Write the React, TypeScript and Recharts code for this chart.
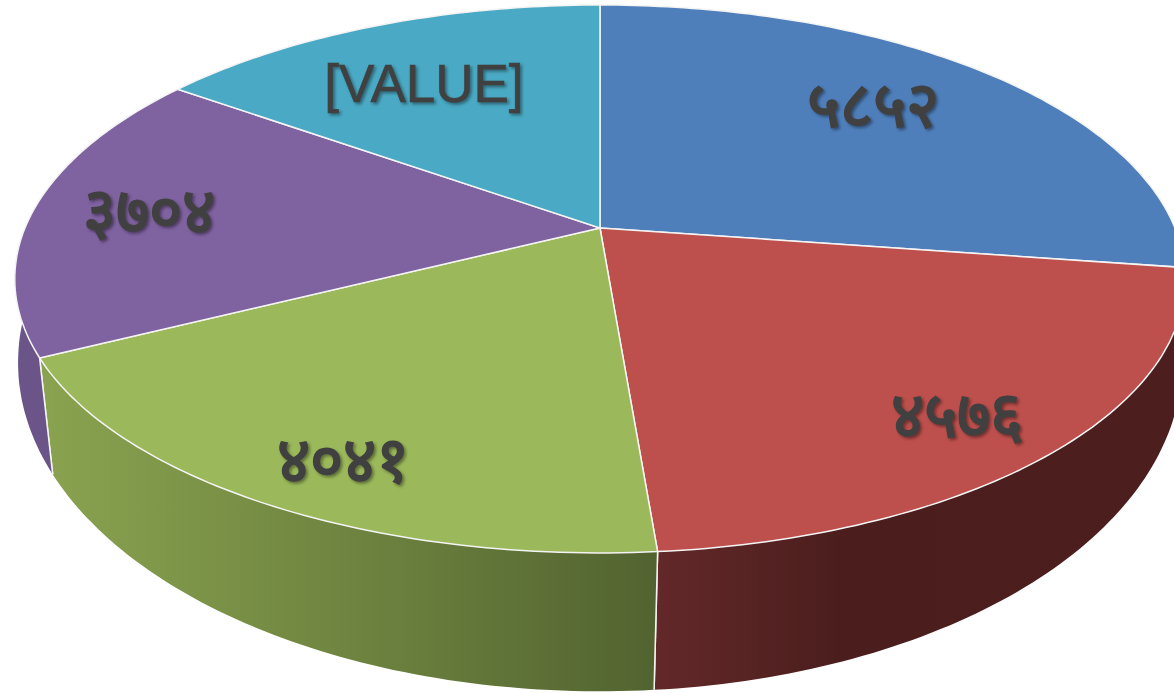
import { Cell, Pie, PieChart } from "recharts";

const sliceNames = ["क", "ख", "ग", "घ", "ङ"];
const sliceValues = [5852, 4576, 4041, 3704, 3240];
const sliceLabels = ["५८५२", "४५७६", "४०४१", "३७०४", "[VALUE]"];
const topColors = ["#4f7fbb", "#bd504d", "#9bb95a", "#7f62a0", "#4aa9c4"];
const wallFills = ["#3a5f8c", "url(#wallRed)", "url(#wallGreen)", "#6a5488", "#38809a"];

const data = sliceNames.map((name, i) => ({ name, value: sliceValues[i] }));

// recharts gives a flat circle, so project each angle onto the tilted disc
const RADIUS = 300;
const CX = 600;
const CY = 228;

const project = (theta: number, r = 1) => {
  const u = r * Math.sin((theta * Math.PI) / 180);
  const v = -r * Math.cos((theta * Math.PI) / 180);
  const d = 1 - 0.186 * v;
  return { x: CX + (575 * u) / d, y: CY + (264.5 * v) / d };
};

const projectBottom = (theta: number) => {
  const u = Math.sin((theta * Math.PI) / 180);
  const v = -Math.cos((theta * Math.PI) / 180);
  const d = 1 - 0.13 * v;
  return { x: CX + (577 * u) / d, y: 320 + (323 * v) / d };
};

const rim = (from: number, to: number, fn: (t: number) => { x: number; y: number }) => {
  const pts = [];
  const steps = Math.max(4, Math.ceil(Math.abs(to - from)));
  for (let i = 0; i <= steps; i++) {
    const p = fn(from + ((to - from) * i) / steps);
    pts.push(`${p.x.toFixed(1)} ${p.y.toFixed(1)}`);
  }
  return pts;
};

function WallShape(props: any) {
  const from = 90 - props.startAngle;
  const to = 90 - props.endAngle;
  const d = `M${rim(from, to, project).join("L")}L${rim(to, from, projectBottom).join("L")}Z`;
  const a = project(from);
  const b = projectBottom(from);
  const c = project(to);
  const e = projectBottom(to);
  return (
    <g>
      <path d={d} fill={props.fill} stroke="none" />
      <line x1={a.x} y1={a.y} x2={b.x} y2={b.y} stroke="#f4f4f4" strokeWidth={1.5} />
      <line x1={c.x} y1={c.y} x2={e.x} y2={e.y} stroke="#f4f4f4" strokeWidth={1.5} />
    </g>
  );
}

function TopShape(props: any) {
  const from = 90 - props.startAngle;
  const to = 90 - props.endAngle;
  const d = `M${CX} ${CY}L${rim(from, to, project).join("L")}Z`;
  return <path d={d} fill={props.fill} stroke="#f4f4f4" strokeWidth={1.5} strokeLinejoin="round" />;
}

const labelRadius = [0.7, 0.82, 0.84, 0.8, 0.7];
const labelNudgeX = [-8, -6, 17, 2, -11];
const labelNudgeY = [-11, 9, 8, -1, 3];

function SliceLabel(props: any) {
  const i = props.index;
  const p = project(90 - props.midAngle, labelRadius[i]);
  const isDigits = i < 4;
  return (
    <text
      x={p.x + labelNudgeX[i]}
      y={p.y + labelNudgeY[i]}
      textAnchor="middle"
      dominantBaseline="central"
      fill="#404040"
      stroke={isDigits ? "none" : "#404040"}
      strokeWidth={0.6}
      fontSize={isDigits ? 64 : 53}
      fontWeight={isDigits ? 700 : 400}
      fontFamily='"Liberation Sans", Arial, sans-serif'
      style={{ filter: "drop-shadow(2px 2px 1.5px rgba(0,0,0,0.4))" }}
    >
      {sliceLabels[i]}
    </text>
  );
}

export default function App() {
  return (
    <div style={{ position: "absolute", left: 0, top: 0, width: 1174, height: 693, overflow: "hidden", background: "#fff" }}>
      <PieChart width={1174} height={693} margin={{ top: 0, right: 0, bottom: 0, left: 0 }}>
        <defs>
          <linearGradient id="wallGreen" gradientUnits="userSpaceOnUse" x1={38} y1={0} x2={657} y2={0}>
            <stop offset="0" stopColor="#8aa350" />
            <stop offset="0.2" stopColor="#7f9749" />
            <stop offset="0.5" stopColor="#6f8440" />
            <stop offset="1" stopColor="#526330" />
          </linearGradient>
          <linearGradient id="wallRed" gradientUnits="userSpaceOnUse" x1={657} y1={0} x2={1174} y2={0}>
            <stop offset="0" stopColor="#632829" />
            <stop offset="0.35" stopColor="#4b1e1d" />
            <stop offset="1" stopColor="#4c1f1e" />
          </linearGradient>
        </defs>
        <Pie
          data={data}
          dataKey="value"
          nameKey="name"
          cx={CX}
          cy={CY}
          outerRadius={RADIUS}
          startAngle={90}
          endAngle={-270}
          isAnimationActive={false}
          shape={WallShape}
        >
          {data.map((_, i) => (
            <Cell key={i} fill={wallFills[i]} />
          ))}
        </Pie>
        <Pie
          data={data}
          dataKey="value"
          nameKey="name"
          cx={CX}
          cy={CY}
          outerRadius={RADIUS}
          startAngle={90}
          endAngle={-270}
          isAnimationActive={false}
          shape={TopShape}
          labelLine={false}
          label={SliceLabel}
        >
          {data.map((_, i) => (
            <Cell key={i} fill={topColors[i]} />
          ))}
        </Pie>
      </PieChart>
    </div>
  );
}
